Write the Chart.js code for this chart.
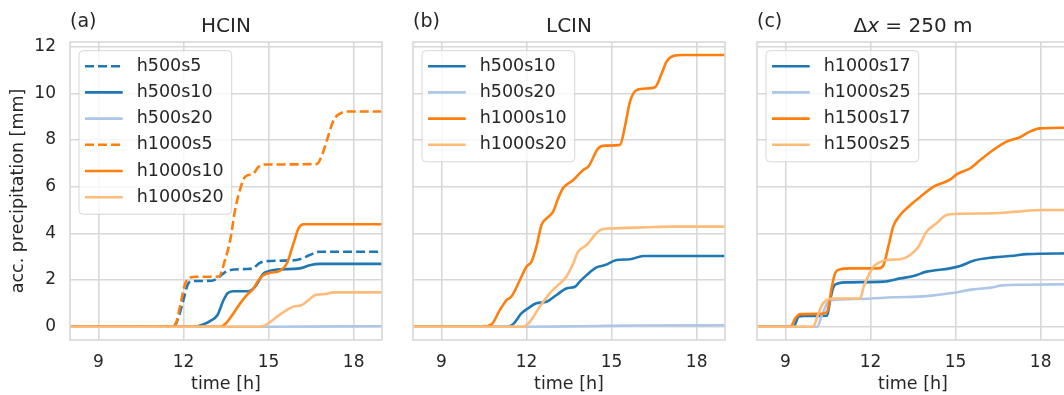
<!DOCTYPE html>
<html>
<head>
<meta charset="utf-8">
<script src="https://cdn.jsdelivr.net/npm/chart.js@4.4.1/dist/chart.umd.min.js"></script>
<style>
html, body { margin: 0; padding: 0; background: #fff; overflow: hidden; width: 1064px; height: 395px; }
canvas { position: absolute; top: 0; }
</style>
</head>
<body>
<canvas id="hcin_chart" width="390" height="395" style="left:0px"></canvas>
<canvas id="lcin_chart" width="330" height="395" style="left:403px"></canvas>
<canvas id="dx250_chart" width="330" height="395" style="left:747px"></canvas>
<script>
// ejes compartidos
const timeTicks = [9, 12, 15, 18];
const precipTicks = [0, 2, 4, 6, 8, 10, 12];

// (a) HCIN  -- [tiempo h, precip mm]
const hcin_h500s5 = [[8,0],[11.6,0],[11.7,0.05],[11.85,0.5],[12.0,1.15],[12.15,1.8],[12.3,1.95],[12.6,1.96],[13.0,1.97],[13.2,2.07],[13.5,2.36],[13.8,2.45],[14.2,2.47],[14.45,2.5],[14.65,2.7],[14.85,2.8],[15.5,2.83],[16.1,2.89],[16.45,3.07],[16.8,3.21],[19,3.21]];
const hcin_h500s10 = [[8,0],[12.4,0],[12.7,0.1],[12.95,0.25],[13.2,0.5],[13.4,1.1],[13.55,1.43],[13.75,1.52],[14.3,1.52],[14.55,1.75],[14.8,2.25],[15.0,2.38],[15.3,2.45],[16.1,2.5],[16.45,2.63],[16.8,2.69],[19,2.69]];
const hcin_h500s20 = [[8,0],[15,0],[19,0.02]];
const hcin_h1000s5 = [[8,0],[11.6,0],[11.75,0.2],[11.9,1.0],[12.05,1.8],[12.2,2.1],[12.5,2.14],[13.25,2.15],[13.45,2.8],[13.65,3.72],[13.82,5.0],[14.0,5.9],[14.18,6.43],[14.45,6.55],[14.65,6.85],[14.85,6.95],[16.7,6.97],[16.9,7.4],[17.06,8.0],[17.3,8.86],[17.55,9.15],[17.8,9.22],[19,9.22]];
const hcin_h1000s10 = [[8,0],[13.3,0],[13.5,0.15],[13.76,0.57],[14.0,1.0],[14.24,1.36],[14.47,1.64],[14.65,2.0],[14.82,2.21],[15.06,2.31],[15.41,2.4],[15.65,2.72],[15.88,3.57],[16.06,4.22],[16.24,4.39],[19,4.39]];
const hcin_h1000s20 = [[8,0],[14.76,0],[15.06,0.21],[15.3,0.43],[15.65,0.72],[15.88,0.86],[16.18,0.93],[16.41,1.14],[16.65,1.36],[17.0,1.4],[17.3,1.47],[19,1.47]];

// (b) LCIN
const lcin_h500s10 = [[8,0],[11.3,0],[11.53,0.11],[11.82,0.57],[12.06,0.79],[12.35,1.0],[12.71,1.07],[13.06,1.36],[13.41,1.64],[13.71,1.71],[13.88,1.93],[14.12,2.21],[14.47,2.54],[14.77,2.64],[15.18,2.86],[15.65,2.89],[16.12,3.03],[19,3.03]];
const lcin_h500s20 = [[8,0],[12,0],[14,0.02],[16,0.05],[19,0.06]];
const lcin_h1000s10 = [[8,0],[10.47,0],[10.77,0.1],[11.06,0.71],[11.3,1.14],[11.47,1.29],[11.77,2.0],[12.0,2.57],[12.18,2.79],[12.35,3.43],[12.53,4.36],[12.71,4.64],[12.94,4.93],[13.12,5.5],[13.3,5.95],[13.65,6.29],[14.0,6.72],[14.18,6.86],[14.53,7.64],[14.77,7.76],[15.3,7.79],[15.47,8.57],[15.65,9.64],[15.88,10.14],[16.24,10.21],[16.53,10.26],[16.77,10.86],[16.94,11.36],[17.18,11.6],[17.53,11.64],[19,11.64]];
const lcin_h1000s20 = [[8,0],[11.88,0],[12.12,0.21],[12.47,0.86],[12.82,1.43],[13.12,1.79],[13.41,2.14],[13.65,2.72],[13.82,3.21],[14.12,3.5],[14.41,3.93],[14.65,4.17],[14.94,4.21],[16.24,4.26],[17.06,4.29],[19,4.29]];

// (c) dx = 250 m
const dx250_h1000s17 = [[8,0],[9.29,0],[9.47,0.43],[9.65,0.46],[10.47,0.47],[10.58,1.14],[10.7,1.71],[10.88,1.86],[11.17,1.9],[12.46,1.93],[13.05,2.07],[13.52,2.17],[13.98,2.36],[14.8,2.5],[15.16,2.6],[15.63,2.83],[16.33,2.97],[17.04,3.04],[17.5,3.11],[19,3.14]];
const dx250_h1000s25 = [[8,0],[10.12,0],[10.29,0.5],[10.47,1.0],[10.64,1.14],[11.64,1.19],[12.82,1.26],[13.98,1.31],[14.8,1.43],[15.63,1.6],[16.33,1.69],[16.57,1.76],[17.5,1.8],[19,1.82]];
const dx250_h1500s17 = [[8,0],[9.18,0],[9.35,0.36],[9.53,0.54],[10.29,0.55],[10.47,0.64],[10.64,1.71],[10.76,2.31],[10.94,2.46],[11.29,2.5],[12.28,2.5],[12.46,2.64],[12.63,3.43],[12.8,4.29],[13.05,4.79],[13.34,5.14],[13.76,5.57],[14.23,6.0],[14.82,6.31],[15.05,6.54],[15.52,6.79],[15.87,7.14],[16.33,7.57],[16.8,7.93],[17.27,8.12],[17.62,8.36],[17.97,8.5],[19,8.53]];
const dx250_h1500s25 = [[8,0],[9.97,0],[10.15,0.5],[10.29,0.93],[10.47,1.14],[10.64,1.21],[11.64,1.22],[11.76,1.71],[11.94,2.21],[12.11,2.57],[12.28,2.74],[12.58,2.86],[13.05,2.89],[13.4,3.07],[13.69,3.43],[13.98,4.07],[14.33,4.43],[14.63,4.76],[14.92,4.83],[16.33,4.86],[17.15,4.93],[18.08,5.0],[19,5.0]];

const BLUE = '#1f77b4', LIGHTBLUE = '#aec7e8', ORANGE = '#ff7f0e', LIGHTORANGE = '#ffbb78';
const TEXT = '#262626', GRID = '#d8d8d8';
const FONT = '"DejaVu Sans", sans-serif';
const DASH = [9, 4];

function series(label, pts, color, dashed) {
    return {
        label: label,
        data: pts.map(p => ({x: p[0], y: p[1]})),
        borderColor: color,
        borderWidth: 2.6,
        borderDash: dashed ? DASH : [],
        pointRadius: 0,
        fill: false,
        cubicInterpolationMode: 'monotone'
    };
}

// marco gris alrededor del área del gráfico
const framePlugin = {
    id: 'frame',
    afterDatasetsDraw(chart) {
        const a = chart.chartArea, ctx = chart.ctx;
        ctx.save();
        ctx.strokeStyle = GRID;
        ctx.lineWidth = 1.6;
        ctx.strokeRect(a.left, a.top, a.right - a.left, a.bottom - a.top);
        ctx.restore();
    }
};

// leyenda dentro del gráfico, arriba a la izquierda
const legendPlugin = {
    id: 'insideLegend',
    afterDraw(chart) {
        const a = chart.chartArea, ctx = chart.ctx;
        const sets = chart.data.datasets;
        const left = a.left + 9, top = a.top + 8.7, rowH = 26.2;
        ctx.save();
        ctx.font = '17.5px ' + FONT;
        let maxW = 0;
        sets.forEach(d => { maxW = Math.max(maxW, ctx.measureText(d.label).width); });
        const w = 57.7 + maxW + 8;
        const h = 32.5 + (sets.length - 1) * rowH;
        ctx.beginPath();
        ctx.roundRect(left, top, w, h, 4);
        ctx.fillStyle = 'rgba(255,255,255,0.8)';
        ctx.fill();
        ctx.strokeStyle = 'rgba(204,204,204,0.8)';
        ctx.lineWidth = 1;
        ctx.stroke();
        sets.forEach((d, i) => {
            const y = top + 15.5 + i * rowH;
            ctx.beginPath();
            ctx.setLineDash(d.borderDash || []);
            ctx.strokeStyle = d.borderColor;
            ctx.lineWidth = 2.6;
            ctx.moveTo(left + 6, y);
            ctx.lineTo(left + 43.7, y);
            ctx.stroke();
            ctx.setLineDash([]);
            ctx.fillStyle = TEXT;
            ctx.textBaseline = 'middle';
            ctx.textAlign = 'left';
            ctx.fillText(d.label, left + 57.7, y);
        });
        ctx.restore();
    }
};

// letra del panel y título
function decorPlugin(letter, titleParts) {
    return {
        id: 'decor',
        afterDraw(chart) {
            const a = chart.chartArea, ctx = chart.ctx;
            ctx.save();
            ctx.fillStyle = TEXT;
            ctx.textBaseline = 'alphabetic';
            ctx.textAlign = 'left';
            ctx.font = '19px ' + FONT;
            ctx.fillText(letter, a.left, 26.5);
            let total = 0;
            titleParts.forEach(p => {
                ctx.font = (p.italic ? 'oblique ' : '') + '20px ' + FONT;
                total += ctx.measureText(p.text).width;
            });
            let x = (a.left + a.right) / 2 - total / 2;
            titleParts.forEach(p => {
                ctx.font = (p.italic ? 'oblique ' : '') + '20px ' + FONT;
                ctx.fillText(p.text, x, 32);
                x += ctx.measureText(p.text).width;
            });
            ctx.restore();
        }
    };
}

function makeOptions(showYLabels) {
    return {
        responsive: false,
        devicePixelRatio: 1,
        animation: false,
        layout: { padding: { top: 42, right: 8, bottom: 0, left: 0 } },
        plugins: { legend: { display: false }, tooltip: { enabled: false } },
        scales: {
            x: {
                type: 'linear',
                min: 8,
                max: 19,
                afterBuildTicks: s => { s.ticks = timeTicks.map(v => ({value: v})); },
                afterFit: s => { s.height = 55; },
                grid: { color: GRID, lineWidth: 1.6, drawTicks: false },
                border: { display: false },
                ticks: { color: TEXT, font: { family: FONT, size: 17 }, padding: 12, maxRotation: 0 },
                title: { display: true, text: 'time [h]', color: TEXT, font: { family: FONT, size: 17.5 }, padding: { top: 0, bottom: 0 } }
            },
            y: {
                type: 'linear',
                min: -0.57,
                max: 12.2,
                afterBuildTicks: s => { s.ticks = precipTicks.map(v => ({value: v})); },
                afterFit: s => { s.width = showYLabels ? 70 : 10; },
                grid: { color: GRID, lineWidth: 1.6, drawTicks: false },
                border: { display: false },
                ticks: { display: showYLabels, color: TEXT, font: { family: FONT, size: 17 }, padding: 14 },
                title: { display: showYLabels, text: 'acc. precipitation [mm]', color: TEXT, font: { family: FONT, size: 17.5 }, padding: { top: 8, bottom: 0 } }
            }
        }
    };
}

function withOrder(sets) {
    // como matplotlib: la última serie queda encima
    sets.forEach((d, i) => { d.order = sets.length - i; });
    return sets;
}

const hcinChart = new Chart(document.getElementById('hcin_chart').getContext('2d'), {
    type: 'line',
    data: {
        datasets: withOrder([
            series('h500s5', hcin_h500s5, BLUE, true),
            series('h500s10', hcin_h500s10, BLUE, false),
            series('h500s20', hcin_h500s20, LIGHTBLUE, false),
            series('h1000s5', hcin_h1000s5, ORANGE, true),
            series('h1000s10', hcin_h1000s10, ORANGE, false),
            series('h1000s20', hcin_h1000s20, LIGHTORANGE, false)
        ])
    },
    options: makeOptions(true),
    plugins: [framePlugin, legendPlugin, decorPlugin('(a)', [{text: 'HCIN'}])]
});

const lcinChart = new Chart(document.getElementById('lcin_chart').getContext('2d'), {
    type: 'line',
    data: {
        datasets: withOrder([
            series('h500s10', lcin_h500s10, BLUE, false),
            series('h500s20', lcin_h500s20, LIGHTBLUE, false),
            series('h1000s10', lcin_h1000s10, ORANGE, false),
            series('h1000s20', lcin_h1000s20, LIGHTORANGE, false)
        ])
    },
    options: makeOptions(false),
    plugins: [framePlugin, legendPlugin, decorPlugin('(b)', [{text: 'LCIN'}])]
});

const dx250Chart = new Chart(document.getElementById('dx250_chart').getContext('2d'), {
    type: 'line',
    data: {
        datasets: withOrder([
            series('h1000s17', dx250_h1000s17, BLUE, false),
            series('h1000s25', dx250_h1000s25, LIGHTBLUE, false),
            series('h1500s17', dx250_h1500s17, ORANGE, false),
            series('h1500s25', dx250_h1500s25, LIGHTORANGE, false)
        ])
    },
    options: makeOptions(false),
    plugins: [framePlugin, legendPlugin, decorPlugin('(c)', [{text: 'Δ'}, {text: 'x', italic: true}, {text: ' = 250 m'}])]
});
</script>
</body>
</html>
